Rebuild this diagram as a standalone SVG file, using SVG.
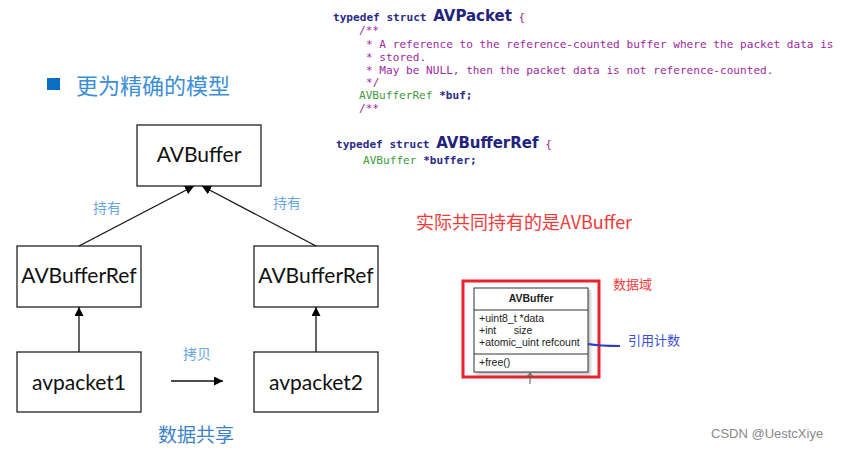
<svg xmlns="http://www.w3.org/2000/svg" width="844" height="450" viewBox="0 0 844 450">
<defs>
<marker id="ah" viewBox="0 0 10 10" refX="10" refY="5" markerWidth="9" markerHeight="9" markerUnits="userSpaceOnUse" orient="auto"><path d="M0,0 L10,5 L0,10 Z" fill="#000"/></marker>
<filter id="sh" x="-10%" y="-10%" width="130%" height="130%"><feDropShadow dx="2" dy="2" stdDeviation="1.5" flood-color="#000" flood-opacity="0.25"/></filter>
</defs>
<style>
.box{fill:#fff;stroke:#222;stroke-width:1.3}
.bt{font-family:Lato,"Liberation Sans",sans-serif;font-size:21px;fill:#111;text-anchor:middle}
.cn{font-family:"Noto Sans CJK SC",sans-serif}
.lb{font-size:14px;fill:#6aa6e0}
.ed{stroke:#111;stroke-width:1.3;fill:none}
.mono{font-family:"DejaVu Sans Mono",monospace;font-size:11.1px}
.kw{font-weight:bold;fill:#2b2b86}
.cm{fill:#a0289f}
.ty{fill:#3e9a3a}
.big{font-family:"DejaVu Sans",sans-serif;font-weight:bold;font-size:15px;fill:#23237e}
.uml{font-family:"Liberation Sans",Arial,sans-serif;font-size:10.5px;fill:#222}
</style>
<rect width="844" height="450" fill="#fff"/>
<rect x="47" y="78" width="13" height="12" fill="#0a6fc2"/>
<text x="76" y="94" class="cn" font-size="22" fill="#3d8ed6">更为精确的模型</text>

<g id="avbuffer"><rect class="box" x="137" y="125" width="124" height="61"/><text class="bt" x="199" y="162">AVBuffer</text></g>
<g id="ref1"><rect class="box" x="17" y="246" width="124" height="61"/><text class="bt" x="79" y="283">AVBufferRef</text></g>
<g id="ref2"><rect class="box" x="254" y="246" width="124" height="61"/><text class="bt" x="316" y="283">AVBufferRef</text></g>
<g id="pkt1"><rect class="box" x="17" y="352" width="124" height="60"/><text class="bt" x="79" y="390">avpacket1</text></g>
<g id="pkt2"><rect class="box" x="254" y="352" width="124" height="60"/><text class="bt" x="316" y="390">avpacket2</text></g>

<g id="connectors">
<line class="ed" x1="79" y1="246" x2="194" y2="186" marker-end="url(#ah)"/>
<line class="ed" x1="316" y1="246" x2="202" y2="186" marker-end="url(#ah)"/>
<line class="ed" x1="79" y1="352" x2="79" y2="307" marker-end="url(#ah)"/>
<line class="ed" x1="316" y1="352" x2="316" y2="307" marker-end="url(#ah)"/>
<line class="ed" x1="171" y1="381" x2="223" y2="381" marker-end="url(#ah)"/>
</g>
<text class="cn lb" x="93" y="213">持有</text>
<text class="cn lb" x="273" y="208">持有</text>
<text class="cn lb" x="183" y="359">拷贝</text>
<text class="cn" x="158" y="442" font-size="19" fill="#3c82c8">数据共享</text>

<g id="code">
<text x="333" y="21" class="mono kw">typedef struct <tspan class="big">AVPacket</tspan><tspan class="cm" font-weight="normal"> {</tspan></text>
<text x="359" y="34" class="mono cm" font-size="9">/**</text>
<text x="366" y="48" class="mono cm">* A reference to the reference-counted buffer where the packet data is</text>
<text x="366" y="61" class="mono cm">* stored.</text>
<text x="366" y="74" class="mono cm">* May be NULL, then the packet data is not reference-counted.</text>
<text x="366" y="86" class="mono cm" font-size="9">*/</text>
<text x="359" y="99" class="mono"><tspan class="ty">AVBufferRef </tspan><tspan class="kw">*buf;</tspan></text>
<text x="359" y="112" class="mono cm" font-size="8">/**</text>
<text x="336" y="148" class="mono kw">typedef struct <tspan class="big">AVBufferRef</tspan><tspan class="cm" font-weight="normal"> {</tspan></text>
<text x="363" y="164" class="mono"><tspan class="ty">AVBuffer </tspan><tspan class="kw">*buffer;</tspan></text>
</g>

<text class="cn" x="416" y="229" font-size="18" fill="#f23a3a">实际共同持有的是AVBuffer</text>

<g id="umlbox">
<rect x="463" y="281" width="136" height="96" fill="none" stroke="#e8232a" stroke-width="3"/>
<rect x="474" y="288" width="114" height="84" fill="#fff" stroke="#333" stroke-width="1" filter="url(#sh)"/>
<line x1="474" y1="310" x2="588" y2="310" stroke="#333"/>
<line x1="474" y1="354" x2="588" y2="354" stroke="#333"/>
<text class="uml" x="531" y="302" text-anchor="middle" font-weight="bold">AVBuffer</text>
<text class="uml" x="479" y="322">+uint8_t *data</text>
<text class="uml" x="479" y="334" xml:space="preserve">+int      size</text>
<text class="uml" x="479" y="346">+atomic_uint refcount</text>
<text class="uml" x="479" y="366">+free()</text>
<path d="M530,384 L530,373 M526,378 L530,373 L534,378" stroke="#555" stroke-width="1" fill="none"/>
</g>
<text class="cn" x="613" y="289" font-size="13" fill="#f23a3a">数据域</text>
<path d="M588,344 Q600,346 620,346" stroke="#2d3fbf" stroke-width="2.2" fill="none"/>
<text class="cn" x="628" y="345" font-size="13" fill="#3c4fd0">引用计数</text>

<text x="711" y="438" font-family="'Liberation Sans',sans-serif" font-size="13" fill="#888">CSDN @UestcXiye</text>
</svg>
